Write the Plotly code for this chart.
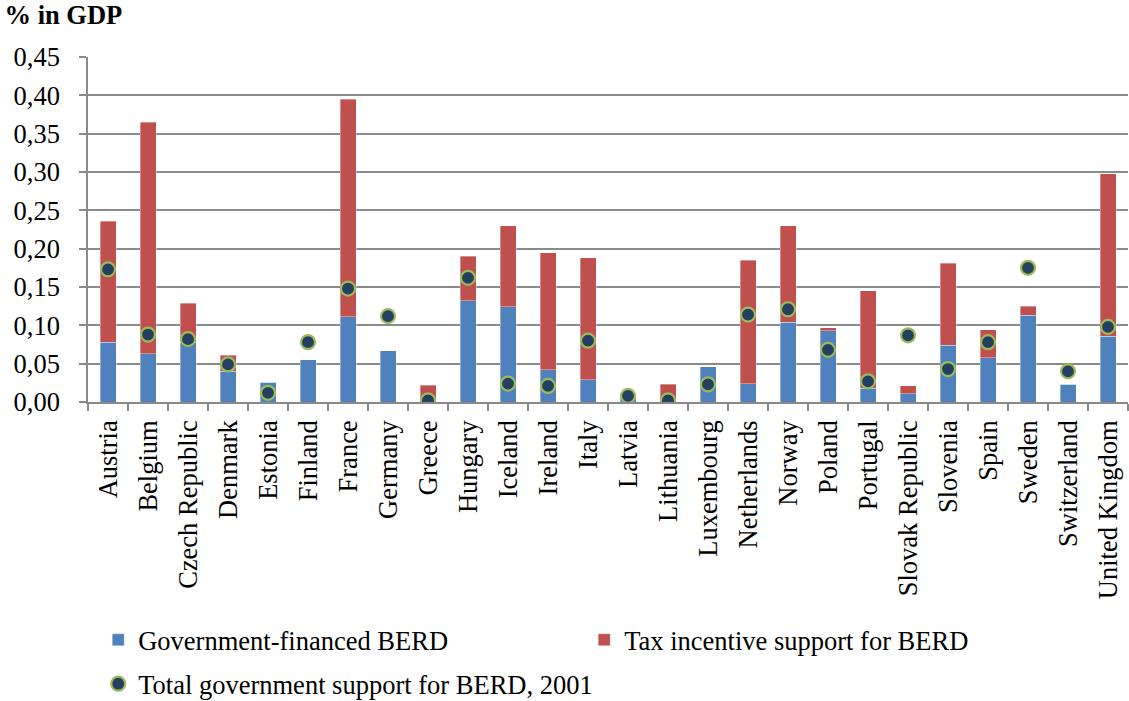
import plotly.graph_objects as go

# Government support for business R&D (BERD) by country, % of GDP
countries = [
    "Austria", "Belgium", "Czech Republic", "Denmark", "Estonia", "Finland",
    "France", "Germany", "Greece", "Hungary", "Iceland", "Ireland", "Italy",
    "Latvia", "Lithuania", "Luxembourg", "Netherlands", "Norway", "Poland",
    "Portugal", "Slovak Republic", "Slovenia", "Spain", "Sweden",
    "Switzerland", "United Kingdom",
]

gov_financed_berd = [
    0.078, 0.063, 0.078, 0.040, 0.026, 0.055, 0.111, 0.067, 0.004, 0.132,
    0.124, 0.042, 0.029, 0.004, 0.002, 0.046, 0.024, 0.104, 0.093, 0.018,
    0.011, 0.074, 0.058, 0.113, 0.023, 0.086,
]

tax_incentive_berd = [
    0.158, 0.302, 0.051, 0.021, 0.000, 0.000, 0.284, 0.000, 0.018, 0.058,
    0.106, 0.153, 0.159, 0.004, 0.021, 0.000, 0.161, 0.126, 0.004, 0.127,
    0.010, 0.107, 0.036, 0.012, 0.000, 0.212,
]

total_support_2001 = [
    0.173, 0.088, 0.082, 0.049, 0.012, 0.078, 0.148, 0.112, 0.002, 0.162,
    0.024, 0.021, 0.080, 0.008, 0.002, 0.023, 0.114, 0.121, 0.068, 0.027,
    0.087, 0.043, 0.078, 0.175, 0.040, 0.098,
]

y_ticks = [0.00, 0.05, 0.10, 0.15, 0.20, 0.25, 0.30, 0.35, 0.40, 0.45]

FONT = "Liberation Serif, Times New Roman, serif"
FS = 26.5
GRID = "#8a8a8a"

fig = go.Figure()

fig.add_trace(go.Bar(
    x=countries, y=gov_financed_berd, name="Government-financed BERD",
    marker=dict(color="#4F81BD", line=dict(color="rgba(255,255,255,0.6)", width=0.6)),
    legend="legend",
))
fig.add_trace(go.Bar(
    x=countries, y=tax_incentive_berd, name="Tax incentive support for BERD",
    marker=dict(color="#C0504D", line=dict(color="rgba(255,255,255,0.6)", width=0.6)),
    legend="legend",
))
fig.add_trace(go.Scatter(
    x=countries, y=total_support_2001, mode="markers",
    name="Total government support for BERD, 2001",
    marker=dict(size=14, color="#243F60", line=dict(color="#9BBB59", width=2.2)),
    legend="legend2",
))

fig.update_layout(
    width=1129, height=701,
    barmode="stack", bargap=0.6,
    paper_bgcolor="white", plot_bgcolor="white",
    margin=dict(l=88, r=1, t=57, b=299),
    font=dict(family=FONT, size=FS, color="black"),
    separators=", ",
    title=dict(
        text="<b>% in GDP</b>", font=dict(family=FONT, size=FS, color="black"),
        x=0.004, xref="container", xanchor="left",
        y=1 - 15 / 701, yref="container", yanchor="middle",
    ),
    legend=dict(
        orientation="h", xref="container", yref="container",
        x=0.087, xanchor="left", y=1 - 640 / 701, yanchor="middle",
        entrywidth=441, entrywidthmode="pixels", traceorder="normal",
        font=dict(family=FONT, size=FS), itemclick=False,
        bgcolor="rgba(0,0,0,0)",
    ),
    legend2=dict(
        orientation="h", xref="container", yref="container",
        x=0.087, xanchor="left", y=1 - 684 / 701, yanchor="middle",
        font=dict(family=FONT, size=FS), itemclick=False,
        bgcolor="rgba(0,0,0,0)",
    ),
    showlegend=True,
)

fig.update_xaxes(
    type="category", range=[-0.5, len(countries) - 0.5], tickangle=-90,
    showline=True, linecolor=GRID, linewidth=1.5,
    ticks="outside", tickson="boundaries", ticklen=7, tickcolor=GRID, tickwidth=1.5,
    ticklabelstandoff=6,
    showgrid=False, tickfont=dict(family=FONT, size=FS),
)
fig.update_yaxes(
    range=[0, 0.45], tickvals=y_ticks, tickformat=".2f",
    showline=True, linecolor=GRID, linewidth=1.5,
    ticks="outside", ticklen=7, tickcolor=GRID, tickwidth=1.5,
    ticklabelstandoff=14,
    showgrid=True, gridcolor=GRID, gridwidth=1.5,
    zeroline=False, tickfont=dict(family=FONT, size=FS),
)

fig.write_html("out.html")
